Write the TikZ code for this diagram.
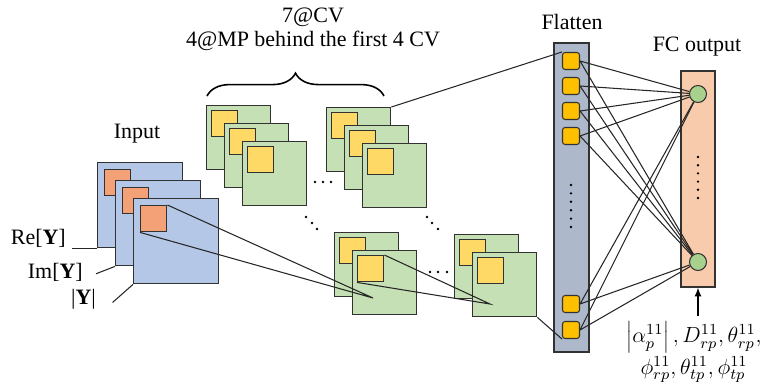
\documentclass[tikz,border=0pt]{standalone}
\usepackage{fix-cm}
\usepackage{fontspec}
\setmainfont{Liberation Serif}
\usetikzlibrary{arrows.meta,decorations.pathreplacing}

\definecolor{edge}{RGB}{50,50,50}
\definecolor{inblue}{RGB}{180,199,231}
\definecolor{patchred}{RGB}{244,161,120}
\definecolor{cvgreen}{RGB}{197,224,180}
\definecolor{cvyellow}{RGB}{255,217,102}
\definecolor{flatgray}{RGB}{173,185,202}
\definecolor{unitamber}{RGB}{255,192,0}
\definecolor{fcpeach}{RGB}{248,203,173}
\definecolor{outgreen}{RGB}{169,209,142}

\begin{document}
\begin{tikzpicture}[x=0.02cm, y=-0.02cm, font=\fontsize{12.5}{13.5}\selectfont,
    fmap/.style={draw=edge, line width=0.8pt, inner sep=0, anchor=north west},
    inmap/.style={fmap, fill=inblue, minimum size=1.7cm},
    inpatch/.style={fmap, fill=patchred, minimum size=0.52cm},
    cvmap/.style={fmap, fill=cvgreen, minimum size=1.28cm},
    cvpatch/.style={fmap, fill=cvyellow, minimum size=0.52cm},
    unit/.style={draw=edge, line width=0.6pt, fill=unitamber, rounded corners=1.5pt,
        inner sep=0, minimum size=0.34cm},
    neuron/.style={draw=edge, line width=0.6pt, fill=outgreen, circle,
        inner sep=0, minimum size=0.34cm},
    link/.style={draw=black!85, line width=0.6pt}]
    \useasboundingbox (0,0) rectangle (767,385);

    % input maps
    \node[inmap] (in1) at (97,162) {};
    \node[inpatch] (p1) at (104,169) {};
    \node[inmap] (in2) at (115,180) {};
    \node[inpatch] (p2) at (122,187) {};
    \node[inmap] (in3) at (133,198) {};
    \node[inpatch] (p3) at (140,205) {};
    \node (input) at (137,134) {Input};

    \node[anchor=east] (relab) at (72,238) {Re[\textbf{Y}]};
    \node[anchor=east] (imlab) at (89,272) {Im[\textbf{Y}]};
    \node[anchor=east] (ylab) at (102,299) {|\textbf{Y}|};
    \draw[link] (relab.east |- in1.south west) -- (in1.south west);
    \draw[link] ([xshift=4pt,yshift=-1pt]imlab.east) -- (in2.south west);
    \draw[link] ([xshift=6pt,yshift=-2pt]ylab.east) -- (in3.south west);

    % conv stacks, upper row
    \node[cvmap] (a1) at (206,105) {};
    \node[cvpatch] (a1y) at (211,110) {};
    \node[cvmap] (a2) at (224,123) {};
    \node[cvpatch] (a2y) at (229,128) {};
    \node[cvmap] (a3) at (242,141) {};
    \node[cvpatch] (a3y) at (247,146) {};

    \node[cvmap] (b1) at (326,107) {};
    \node[cvpatch] (b1y) at (331,112) {};
    \node[cvmap] (b2) at (344,125) {};
    \node[cvpatch] (b2y) at (349,130) {};
    \node[cvmap] (b3) at (362,143) {};
    \node[cvpatch] (b3y) at (367,148) {};

    % conv stacks, lower row
    \node[cvmap] (c1) at (334,232) {};
    \node[cvpatch] (c1y) at (339,237) {};
    \node[cvmap] (c2) at (352,250) {};
    \node[cvpatch] (c2y) at (357,255) {};

    \node[cvmap] (d1) at (454,234) {};
    \node[cvpatch] (d1y) at (459,239) {};
    \node[cvmap] (d2) at (472,252) {};
    \node[cvpatch] (d2y) at (477,257) {};

    % ellipsis dots between the stacks
    \foreach \x/\y in {315/182, 323/182, 331/182, 430/272, 438/272, 447/272,
                       306/217, 312/223, 317/229, 427/217, 432/223, 438/229}
        \fill (\x,\y) circle[radius=0.75pt];

    \draw[line width=0.9pt, decorate, decoration={brace, amplitude=13pt}]
        (207,96) -- (384,96);
    \node[align=center] (cvtext) at (313,29) {7@CV\\4@MP behind the first 4 CV};

    % receptive field projections
    \coordinate (cfocus) at (373,298);
    \coordinate (dfocus) at (490,304);
    \draw[link] (p3.north east) -- (cfocus) -- (p3.south west);
    \draw[link] (c2y.north east) -- (dfocus) -- (c2y.south west);

    % flatten layer
    \node[draw=edge, line width=0.8pt, fill=flatgray, minimum width=0.7cm,
        minimum height=6.18cm, inner sep=0] (flat) at (571.5,197.5) {};
    \node (flatlab) at (572,22) {Flatten};
    \foreach \n/\y in {1/61, 2/86, 3/111, 4/136, 5/304, 6/330}
        \node[unit] (f\n) at (571,\y) {};
    \foreach \y in {185,193.4,...,228}
        \fill (571,\y) circle[radius=0.75pt];

    \draw[link] (b1.north east) -- (f1.north west);
    \draw[link] (d2.south east) -- (f6.south west);

    % fully connected output
    \node[draw=edge, line width=0.8pt, fill=fcpeach, minimum width=0.68cm,
        minimum height=4.32cm, inner sep=0] (fc) at (698,179) {};
    \node (fclab) at (697,47) {FC output};
    \node[neuron] (o1) at (698,94) {};
    \node[neuron] (o2) at (698,262) {};
    \foreach \y in {157,165.2,...,199}
        \fill (698,\y) circle[radius=0.75pt];

    \foreach \n in {1,...,6}
        \draw[link] (f\n.east) -- (o1) (f\n.east) -- (o2);

    \node[align=center, inner sep=1pt] (params) at (694,352)
        {$\left|\alpha_p^{11}\right|, D_{rp}^{11}, \theta_{rp}^{11},$\\[1pt]
         $\phi_{rp}^{11}, \theta_{tp}^{11}, \phi_{tp}^{11}$};
    \draw[line width=0.7pt, -{Latex[length=5pt,width=4pt]}]
        (698,316) -- (fc.south);
\end{tikzpicture}
\end{document}
